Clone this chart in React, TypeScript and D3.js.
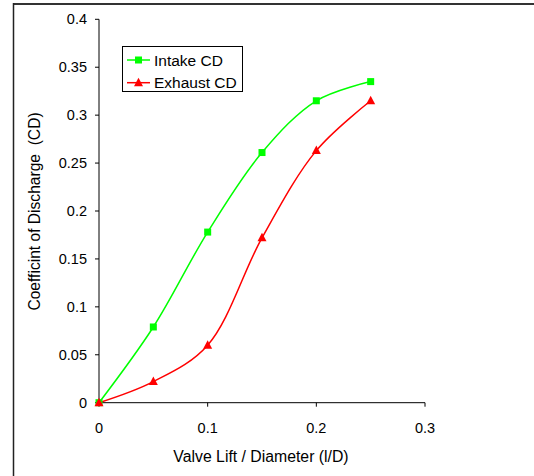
import React from "react";
import * as d3 from "d3";

const xValues = [0, 0.05, 0.1, 0.15, 0.2, 0.25];
const intakeCD = [0, 0.079, 0.178, 0.261, 0.315, 0.335];
const exhaustCD = [0, 0.022, 0.06, 0.172, 0.263, 0.315];
const xTicks = [0, 0.1, 0.2, 0.3];
const yTicks = [0, 0.05, 0.1, 0.15, 0.2, 0.25, 0.3, 0.35, 0.4];
const seriesNames = ["Intake CD", "Exhaust CD"];
const seriesColors = ["#00ff00", "#ff0000"];

const W = 534;
const H = 476;
const FONT = "'Liberation Sans', Arial, sans-serif";

export default function App() {
  const x = d3.scaleLinear().domain([0, 0.3]).range([99, 425]);
  const y = d3.scaleLinear().domain([0, 0.4]).range([402.7, 19.3]);
  const line = d3
    .line<[number, number]>()
    .x((d) => x(d[0]))
    .y((d) => y(d[1]))
    .curve(d3.curveCatmullRom.alpha(0.5));

  const intakePts = xValues.map((v, i) => [v, intakeCD[i]] as [number, number]);
  const exhaustPts = xValues.map((v, i) => [v, exhaustCD[i]] as [number, number]);

  const square = (cx: number, cy: number, color: string, key: string) => (
    <rect key={key} x={cx - 3.5} y={cy - 3.5} width={7} height={7} fill={color} />
  );
  const triangle = (cx: number, cy: number, color: string, key: string) => (
    <path
      key={key}
      d={`M${cx},${cy - 5} L${cx + 4.5},${cy + 3.5} L${cx - 4.5},${cy + 3.5} Z`}
      fill={color}
    />
  );

  return (
    <svg
      width={W}
      height={H}
      style={{ position: "absolute", left: 0, top: 0, background: "#fff" }}
      fontFamily={FONT}
    >
      <rect x={0} y={0} width={W} height={H} fill="#fff" />
      {/* frame */}
      <line x1={13.5} y1={4} x2={W} y2={4} stroke="#333" strokeWidth={2} />
      <line x1={13.5} y1={3} x2={13.5} y2={H} stroke="#222" strokeWidth={1.5} />

      {/* axes */}
      <line x1={x(0)} y1={y(0.4)} x2={x(0)} y2={y(0)} stroke="#000" strokeWidth={1} />
      <line x1={x(0)} y1={y(0)} x2={x(0.3)} y2={y(0)} stroke="#000" strokeWidth={1} />
      {yTicks.map((t) => (
        <g key={"y" + t}>
          <line x1={x(0) - 4} x2={x(0)} y1={y(t)} y2={y(t)} stroke="#000" />
          <text
            x={87}
            y={y(t)}
            textAnchor="end"
            dominantBaseline="central"
            fontSize={14.5}
            fill="#000"
          >
            {String(t)}
          </text>
        </g>
      ))}
      {xTicks.map((t) => (
        <g key={"x" + t}>
          <line x1={x(t)} x2={x(t)} y1={y(0)} y2={y(0) + 4} stroke="#000" />
          <text x={x(t)} y={433} textAnchor="middle" fontSize={14.5} fill="#000">
            {String(t)}
          </text>
        </g>
      ))}
      <text x={261} y={462} textAnchor="middle" fontSize={15.8} fill="#000">
        Valve Lift / Diameter (l/D)
      </text>
      <text
        transform="translate(40,211.5) rotate(-90)"
        textAnchor="middle"
        fontSize={15.6}
        fill="#000"
        style={{ whiteSpace: "pre" }}
      >
        {"Coefficint of Discharge  (CD)"}
      </text>

      {/* series */}
      <path d={line(intakePts) || ""} fill="none" stroke={seriesColors[0]} strokeWidth={1.5} />
      <path d={line(exhaustPts) || ""} fill="none" stroke={seriesColors[1]} strokeWidth={1.5} />
      {intakePts.map((p, i) => square(x(p[0]), y(p[1]), seriesColors[0], "s" + i))}
      {exhaustPts.map((p, i) => triangle(x(p[0]), y(p[1]), seriesColors[1], "t" + i))}

      {/* legend */}
      <rect x={122.5} y={46.5} width={120} height={45} fill="#fff" stroke="#000" strokeWidth={1} />
      {seriesNames.map((name, i) => {
        const cy = 60 + i * 22.7;
        return (
          <g key={name}>
            <line x1={127} x2={150} y1={cy} y2={cy} stroke={seriesColors[i]} strokeWidth={1.5} />
            {i === 0 ? square(138.5, cy, seriesColors[i], "ls") : triangle(138.5, cy, seriesColors[i], "lt")}
            <text x={154} y={cy} dominantBaseline="central" fontSize={15.5} fill="#000">
              {name}
            </text>
          </g>
        );
      })}
    </svg>
  );
}
